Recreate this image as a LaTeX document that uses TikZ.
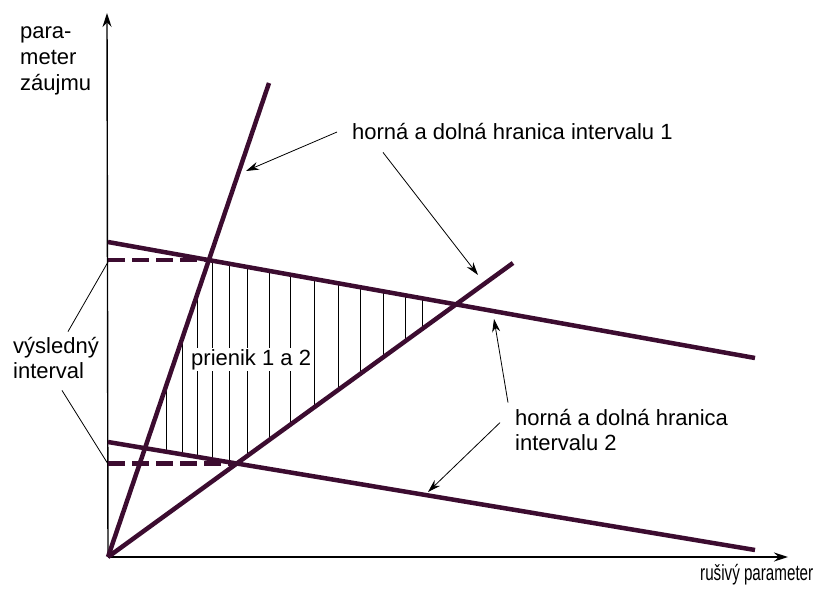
\documentclass[tikz,border=0pt]{standalone}
\usepackage{fontspec}
\setmainfont{Liberation Sans}
\usetikzlibrary{arrows.meta}
\definecolor{plum-line}{HTML}{3C0C30}

\begin{document}
\begin{tikzpicture}[x=1pt, y=-1pt,
    every node/.style={font=\fontsize{22}{26}\selectfont, inner sep=0pt},
    bound/.style={line width=4.5pt, color=plum-line},
    pointer/.style={line width=0.8pt, -{Stealth[length=13pt, width=8pt]}},
    leader/.style={line width=0.8pt},
    hatch/.style={line width=0.8pt}]
    \useasboundingbox (0,0) rectangle (818,596);
    % points of the lines
    \coordinate (origin) at (108,557);
    \coordinate (steep-end) at (269,83);
    \coordinate (flat-end) at (513,263);
    \coordinate (up-start) at (108,242);
    \coordinate (up-end) at (755,358);
    \coordinate (low-start) at (108,442);
    \coordinate (low-end) at (755,550);
    \coordinate (cut-a) at (208.9,260.1);
    \coordinate (cut-b) at (456,304.4);
    \coordinate (cut-c) at (236.8,463.5);
    \coordinate (cut-e) at (145,448.2);
    % hatching of the common part
    \begin{scope}
      \clip (cut-a) -- (cut-b) -- (cut-c) -- (cut-e) -- cycle;
      \foreach \x in {166,182,197,212,229,247,269,290,314,338,360,383,405,422}
        \draw[hatch] (\x,240) -- (\x,480);
    \end{scope}
    % axes
    \draw[line width=1.4pt, -{Stealth[length=14pt, width=9pt]}] (origin) -- (788,557);
    \draw[line width=1.4pt, -{Stealth[length=14pt, width=9pt]}] (origin) -- (107,13);
    % bounds of both intervals
    \draw[bound] (origin) -- (steep-end);
    \draw[bound] (origin) -- (flat-end);
    \draw[bound] (up-start) -- (up-end);
    \draw[bound] (low-start) -- (low-end);
    \draw[bound, dash pattern=on 17pt off 7pt] (108,260.1) -- (cut-a);
    \draw[bound, dash pattern=on 17pt off 7pt] (108,463.5) -- (cut-c);
    % labels
    \node[anchor=base west, align=left] (ylab) at (20,91) {para-\\meter\\záujmu};
    \node[anchor=base west] (xlab) at (700,580) {\scalebox{0.69}[1]{rušivý parameter}};
    \node[anchor=base west, fill=white, inner sep=1pt] (common) at (190,365) {prienik 1 a 2};
    \node[anchor=base west] (int1) at (352,140) {horná a dolná hranica intervalu 1};
    \node[anchor=base west, align=left, font=\fontsize{22}{25}\selectfont] (int2) at (515,450) {horná a dolná hranica\\intervalu 2};
    \node[anchor=base west, align=left, font=\fontsize{22}{25}\selectfont] (result) at (13,378) {výsledný\\interval};
    % pointers
    \coordinate (on-steep) at (246,171);
    \coordinate (on-flat) at (478,275);
    \coordinate (on-up) at (494,319);
    \coordinate (on-low) at (428,492);
    \draw[pointer] ([xshift=-15pt]int1.west) -- (on-steep);
    \draw[pointer] ([xshift=31pt, yshift=-12pt]int1.south west) -- (on-flat);
    \draw[pointer] ([xshift=-7pt, yshift=6pt]int2.north west) -- (on-up);
    \draw[pointer] ([xshift=-15pt, yshift=-14pt]int2.north west) -- (on-low);
    \draw[leader] ([xshift=12pt, yshift=5pt]result.north) -- (108,262);
    \draw[leader] ([xshift=6pt, yshift=-12pt]result.south) -- (108,464);
  \end{tikzpicture}
\end{document}
